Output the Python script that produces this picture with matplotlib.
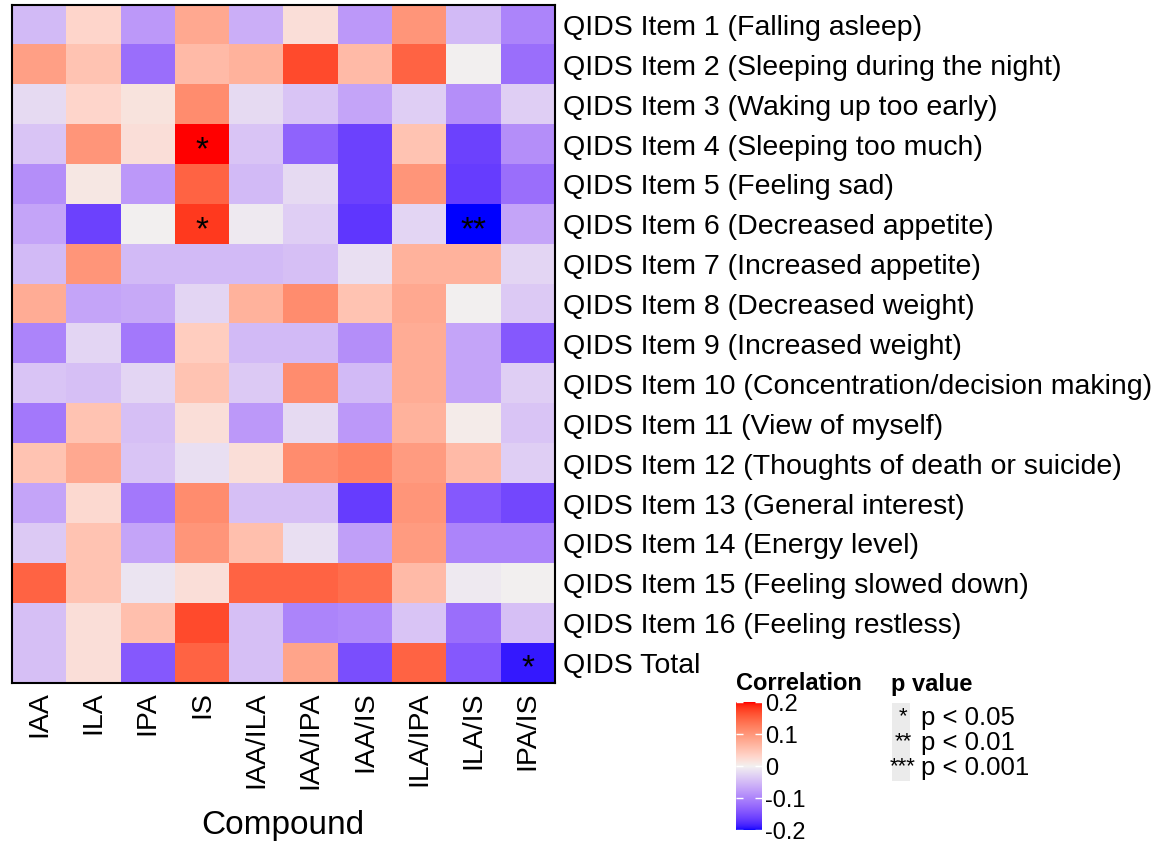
import numpy as np
import matplotlib
matplotlib.use("Agg")
import matplotlib.pyplot as plt
from matplotlib.colors import ListedColormap, to_rgb
from matplotlib.patches import Rectangle

plt.rcParams['font.family'] = ['Liberation Sans', 'DejaVu Sans']

compounds = ["IAA", "ILA", "IPA", "IS", "IAA/ILA", "IAA/IPA", "IAA/IS", "ILA/IPA", "ILA/IS", "IPA/IS"]
items = [
    "QIDS Item 1 (Falling asleep)",
    "QIDS Item 2 (Sleeping during the night)",
    "QIDS Item 3 (Waking up too early)",
    "QIDS Item 4 (Sleeping too much)",
    "QIDS Item 5 (Feeling sad)",
    "QIDS Item 6 (Decreased appetite)",
    "QIDS Item 7 (Increased appetite)",
    "QIDS Item 8 (Decreased weight)",
    "QIDS Item 9 (Increased weight)",
    "QIDS Item 10 (Concentration/decision making)",
    "QIDS Item 11 (View of myself)",
    "QIDS Item 12 (Thoughts of death or suicide)",
    "QIDS Item 13 (General interest)",
    "QIDS Item 14 (Energy level)",
    "QIDS Item 15 (Feeling slowed down)",
    "QIDS Item 16 (Feeling restless)",
    "QIDS Total",
]

correlations = [
    [-0.05, 0.03, -0.08, 0.08, -0.06, 0.02, -0.08, 0.10, -0.05, -0.10],
    [0.09, 0.05, -0.12, 0.06, 0.07, 0.17, 0.06, 0.15, 0.00, -0.12],
    [-0.02, 0.03, 0.015, 0.11, -0.02, -0.04, -0.07, -0.03, -0.09, -0.03],
    [-0.04, 0.10, 0.02, 0.20, -0.04, -0.13, -0.16, 0.05, -0.16, -0.09],
    [-0.09, 0.01, -0.08, 0.15, -0.05, -0.02, -0.16, 0.10, -0.165, -0.12],
    [-0.07, -0.16, 0.00, 0.18, -0.005, -0.03, -0.17, -0.025, -0.20, -0.07],
    [-0.05, 0.10, -0.05, -0.05, -0.05, -0.045, -0.015, 0.07, 0.07, -0.025],
    [0.075, -0.07, -0.065, -0.025, 0.07, 0.11, 0.05, 0.08, 0.00, -0.035],
    [-0.10, -0.025, -0.11, 0.04, -0.05, -0.05, -0.09, 0.075, -0.07, -0.14],
    [-0.04, -0.045, -0.025, 0.05, -0.035, 0.11, -0.05, 0.075, -0.07, -0.03],
    [-0.11, 0.05, -0.045, 0.02, -0.08, -0.02, -0.08, 0.07, 0.005, -0.04],
    [0.05, 0.08, -0.04, -0.015, 0.02, 0.11, 0.12, 0.095, 0.06, -0.03],
    [-0.07, 0.025, -0.11, 0.11, -0.045, -0.045, -0.165, 0.10, -0.14, -0.155],
    [-0.035, 0.05, -0.07, 0.10, 0.055, -0.015, -0.075, 0.095, -0.10, -0.10],
    [0.15, 0.05, -0.01, 0.02, 0.15, 0.15, 0.14, 0.06, -0.005, 0.00],
    [-0.045, 0.02, 0.055, 0.17, -0.045, -0.10, -0.095, -0.04, -0.12, -0.045],
    [-0.045, 0.02, -0.14, 0.15, -0.045, 0.085, -0.15, 0.15, -0.14, -0.19],
]

# significance stars: (row index, column index, label)
sig_rows = [3, 5, 5, 16]
sig_cols = [3, 3, 8, 9]
sig_labels = ["*", "*", "**", "*"]

p_labels = ["p < 0.05", "p < 0.01", "p < 0.001"]
p_keys = ["*", "**", "***"]
cbar_ticks = [-0.2, -0.1, 0, 0.1, 0.2]
cbar_ticklabels = ["-0.2", "-0.1", "0", "0.1", "0.2"]

# ---- Lab-interpolated diverging palette (like ggplot2 scale_fill_gradient2) ----
def _lin(c):
    c = np.asarray(c)
    return np.where(c <= 0.04045, c / 12.92, ((c + 0.055) / 1.055) ** 2.4)

def _delin(c):
    c = np.asarray(c)
    return np.where(c <= 0.0031308, 12.92 * c, 1.055 * np.power(np.clip(c, 0, None), 1 / 2.4) - 0.055)

_M = np.array([[0.4124, 0.3576, 0.1805], [0.2126, 0.7152, 0.0722], [0.0193, 0.1192, 0.9505]])
_Mi = np.linalg.inv(_M)
_wn = np.array([0.95047, 1.0, 1.08883])
_d = 6 / 29

def _f(t):
    return np.where(t > _d ** 3, np.cbrt(t), t / (3 * _d ** 2) + 4 / 29)

def _fi(t):
    return np.where(t > _d, t ** 3, 3 * _d ** 2 * (t - 4 / 29))

def rgb2lab(rgb):
    xyz = _M @ _lin(rgb) / _wn
    fx, fy, fz = _f(xyz)
    return np.array([116 * fy - 16, 500 * (fx - fy), 200 * (fy - fz)])

def lab2rgb(lab):
    L, a, b = lab
    fy = (L + 16) / 116
    fx = fy + a / 500
    fz = fy - b / 200
    xyz = np.array([_fi(fx), _fi(fy), _fi(fz)]) * _wn
    return np.clip(_delin(_Mi @ xyz), 0, 1)

low = rgb2lab(to_rgb("#0000FF"))
mid = rgb2lab(to_rgb("#F2F0F0"))
high = rgb2lab(to_rgb("#FF0000"))
cols = []
for t in np.linspace(0, 1, 256):
    if t < 0.5:
        s = t / 0.5
        lab = low + (mid - low) * s
    else:
        s = (t - 0.5) / 0.5
        lab = mid + (high - mid) * s
    cols.append(lab2rgb(lab))
cmap = ListedColormap(cols)

# ---- figure ----
fig = plt.figure(figsize=(11.63, 8.46), dpi=100)
W, H = 1163, 846
ax = fig.add_axes([12 / W, 1 - 683 / H, (555 - 12) / W, (683 - 5) / H])

data = np.array(correlations)
im = ax.imshow(data, cmap=cmap, vmin=-0.2, vmax=0.2, aspect='auto', interpolation='nearest')
ax.set_xticks(range(len(compounds)))
ax.set_xticklabels(compounds, rotation=90, fontsize=20.5)
ax.set_yticks(range(len(items)))
ax.set_yticklabels(items, fontsize=20.5)
ax.yaxis.tick_right()
ax.tick_params(axis='both', length=0, pad=6)
for sp in ax.spines.values():
    sp.set_linewidth(1.5)
    sp.set_color('black')

for r, c, lab in zip(sig_rows, sig_cols, sig_labels):
    ax.text(c, r + 0.15, lab, ha='center', va='center', fontsize=24, color='black')

fig.text(283 / W, 1 - 825 / H, "Compound", ha='center', va='center', fontsize=24)

# ---- colorbar legend ----
fig.text(736 / W, 1 - 684 / H, "Correlation", ha='left', va='center', fontsize=17, fontweight='bold')
cax = fig.add_axes([736 / W, 1 - 830 / H, 26 / W, (830 - 702) / H])
cb = fig.colorbar(im, cax=cax, ticks=cbar_ticks)
cb.outline.set_visible(False)
cb.ax.set_yticklabels(cbar_ticklabels, fontsize=17)
cb.ax.tick_params(axis='y', direction='in', color='white', length=5, width=1, pad=2, left=True, right=True)

# ---- p value legend ----
fig.text(891 / W, 1 - 684 / H, "p value", ha='left', va='center', fontsize=17, fontweight='bold')
fig.patches.append(Rectangle((892 / W, 1 - 781 / H), 18 / W, (781 - 703) / H,
                             transform=fig.transFigure, facecolor='#EBEBEB', edgecolor='none'))
ys = [718, 743, 768]
for y, k, lab in zip(ys, p_keys, p_labels):
    fig.text(903 / W, 1 - (y - 1) / H, k, ha='center', va='center', fontsize=16)
    fig.text(921 / W, 1 - y / H, lab, ha='left', va='center', fontsize=18.5)

fig.savefig("out.png", dpi=100)
